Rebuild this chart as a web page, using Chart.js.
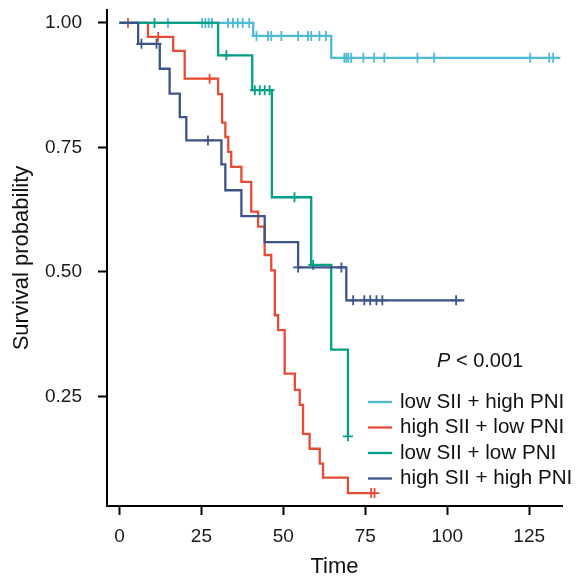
<!DOCTYPE html>
<html><head><meta charset="utf-8">
<script src="https://cdn.jsdelivr.net/npm/chart.js@4"></script>
<style>html,body{margin:0;padding:0;background:#fff}canvas{display:block}</style>
</head><body>
<canvas id="c" width="581" height="588"></canvas>
<script>
const FAMILY = "'Liberation Sans', Arial, Helvetica, sans-serif";
const X_TICKS = [0, 25, 50, 75, 100, 125];
const Y_TICKS = [0.25, 0.5, 0.75, 1];
const SERIES_NAMES = ['low SII + high PNI', 'high SII + low PNI', 'low SII + low PNI', 'high SII + high PNI'];
const COLORS = ['#4DBBD5', '#E64B35', '#00A087', '#3C5488'];
const P_TEXT = ' < 0.001';

// low SII + high PNI
const lbTime = [0, 40.8, 64.6, 134.5];
const lbSurv = [1, 0.974, 0.930, 0.930];
const lbCens = [14.8, 25.2, 26.2, 27.2, 28.2, 33.1, 34.6, 36.1, 37.6, 39.6, 41.8, 45.3, 46.3, 49.4, 54.5, 57.5, 58.5, 61.0, 63.0, 68.6, 69.2, 69.8, 70.7, 74.4, 77.7, 80.8, 90.9, 96.0, 125.3, 131.1, 132.3];
// high SII + low PNI
const rdTime = [0, 8.7, 16.4, 19.9, 30.1, 31.3, 32.3, 33.2, 34.1, 37.2, 40.2, 42.3, 44.3, 46.3, 47.4, 48.4, 50.4, 53.5, 55.0, 56.0, 58.0, 61.1, 62.1, 69.7, 78.0];
const rdSurv = [1, 0.972, 0.944, 0.888, 0.857, 0.800, 0.771, 0.741, 0.711, 0.681, 0.621, 0.591, 0.534, 0.503, 0.413, 0.383, 0.296, 0.263, 0.233, 0.175, 0.145, 0.115, 0.087, 0.056, 0.056];
const rdCens = [2.6, 11.8, 27.5, 76.8, 77.8];
// low SII + low PNI
const gnTime = [0, 30.1, 40.5, 46.5, 58.5, 64.6, 69.7];
const gnSurv = [1, 0.935, 0.865, 0.650, 0.514, 0.344, 0.170];
const gnCens = [10.7, 32.6, 41.3, 42.8, 44.3, 45.8, 53.4, 59.1, 69.7];
// high SII + high PNI
const dbTime = [0, 5.7, 12.3, 15.3, 18.4, 20.4, 31.1, 32.3, 37.2, 44.3, 54.5, 69.2, 105.2];
const dbSurv = [1, 0.958, 0.908, 0.858, 0.811, 0.764, 0.716, 0.664, 0.612, 0.560, 0.509, 0.443, 0.443];
const dbCens = [6.7, 11.3, 27.0, 54.5, 67.7, 71.3, 74.7, 76.5, 78.4, 80.2, 102.7];

const SERIES = [
  {t: lbTime, s: lbSurv, c: lbCens},
  {t: rdTime, s: rdSurv, c: rdCens},
  {t: gnTime, s: gnSurv, c: gnCens},
  {t: dbTime, s: dbSurv, c: dbCens}
];

function survAt(times, surv, t) {
  let v = surv[0];
  for (let i = 0; i < times.length; i++) { if (times[i] <= t) v = surv[i]; }
  return v;
}

const datasets = [];
SERIES.forEach((ser, i) => {
  const order = 3 - i;
  datasets.push({
    type: 'line', label: SERIES_NAMES[i],
    data: ser.t.map((t, k) => ({x: t, y: ser.s[k]})),
    stepped: 'before', borderColor: COLORS[i], borderWidth: 2.3,
    pointRadius: 0, fill: false, order: order
  });
  datasets.push({
    type: 'scatter', label: SERIES_NAMES[i] + ' censor',
    data: ser.c.map(t => ({x: t, y: survAt(ser.t, ser.s, t)})),
    pointStyle: 'cross', pointRadius: 5, pointBorderWidth: 1.8,
    borderColor: COLORS[i], backgroundColor: COLORS[i], showLine: false, order: order
  });
});

const overlay = {
  id: 'kmOverlay',
  beforeDatasetsDraw(chart) {
    const ctx = chart.ctx;
    ctx.save();
    ctx.textBaseline = 'middle';
    ctx.fillStyle = '#111';
    ctx.font = 'italic 20px ' + FAMILY;
    const px = 437, py = 361;
    ctx.fillText('P', px, py);
    const w = ctx.measureText('P').width;
    ctx.font = '20px ' + FAMILY;
    ctx.fillText(P_TEXT, px + w, py);
    ctx.font = '20.6px ' + FAMILY;
    SERIES_NAMES.forEach((name, i) => {
      const y = 402 + i * 25.5;
      ctx.strokeStyle = COLORS[i];
      ctx.lineWidth = 2.3;
      ctx.beginPath(); ctx.moveTo(368, y); ctx.lineTo(392, y); ctx.stroke();
      ctx.fillStyle = '#111';
      ctx.fillText(name, 400, y);
    });
    ctx.restore();
  }
};

new Chart(document.getElementById('c'), {
  data: {datasets: datasets},
  options: {
    responsive: false, animation: false, devicePixelRatio: 1,
    layout: {padding: {top: 10, right: 19, bottom: 0, left: 0}},
    plugins: {legend: {display: false}, tooltip: {enabled: false}},
    scales: {
      x: {
        type: 'linear', min: -3.8, max: 135,
        afterBuildTicks(s) { s.ticks = X_TICKS.map(v => ({value: v})); },
        afterFit(s) { s.height = 82; s.paddingLeft = 0; s.paddingRight = 0; },
        grid: {display: true, drawOnChartArea: false, drawTicks: true, tickLength: 9, tickWidth: 2, tickColor: '#000'},
        border: {display: true, color: '#000', width: 2},
        ticks: {color: '#1a1a1a', font: {family: FAMILY, size: 19}, padding: 10, maxRotation: 0, autoSkip: false},
        title: {display: true, text: 'Time', color: '#111', font: {family: FAMILY, size: 22}, padding: {top: 0, bottom: 8}}
      },
      y: {
        type: 'linear', min: 0.03, max: 1.026,
        afterBuildTicks(s) { s.ticks = Y_TICKS.map(v => ({value: v})); },
        afterFit(s) { s.width = 107; s.paddingTop = 0; s.paddingBottom = 0; },
        grid: {display: true, drawOnChartArea: false, drawTicks: true, tickLength: 9, tickWidth: 2, tickColor: '#000'},
        border: {display: true, color: '#000', width: 2},
        ticks: {color: '#1a1a1a', font: {family: FAMILY, size: 19}, padding: 16, autoSkip: false,
          callback: v => Number(v).toFixed(2)},
        title: {display: true, text: 'Survival probability', color: '#111', font: {family: FAMILY, size: 22}, padding: {top: 8.5, bottom: 0}}
      }
    }
  },
  plugins: [overlay]
});
</script>
</body></html>
